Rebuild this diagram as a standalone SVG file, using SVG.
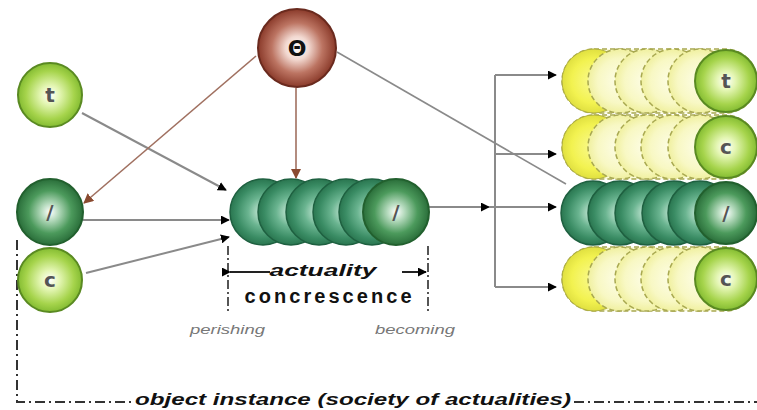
<svg xmlns="http://www.w3.org/2000/svg" width="757" height="410" viewBox="0 0 757 410">
<style>
.conn{stroke:#8a8a8a;stroke-width:2;fill:none}
.brown{stroke:#a07060;stroke-width:1.6;fill:none}
.dash{stroke:#333;stroke-width:2;fill:none;stroke-dasharray:10 4 2 4}
.vdash{stroke:#555;stroke-width:2;fill:none;stroke-dasharray:9 3 2 3}
.lg{fill:url(#gLight);stroke:#5a8a22;stroke-width:2}
.dg{fill:url(#gDark);stroke:#22602e;stroke-width:2}
.teal{fill:url(#gTeal);stroke:#1e6040;stroke-width:1.5}
.yel{fill:url(#gYel);stroke:#a8a850;stroke-width:1.5;stroke-dasharray:5 3}
.yel0{fill:url(#gYel0);stroke:#b0b040;stroke-width:1}
.glyph{font-family:"DejaVu Sans","Liberation Sans",sans-serif;font-size:20px;font-weight:bold;fill:#555;text-anchor:middle}
.lab{font-family:"Liberation Sans",Arial,sans-serif;fill:#111}
.small{font-family:"Liberation Sans",Arial,sans-serif;font-style:italic;font-size:13px;fill:#777}
</style>
<defs>
<radialGradient id="gLight" cx="0.5" cy="0.5" r="0.5">
<stop offset="0" stop-color="#ffffff"/><stop offset="0.3" stop-color="#e4f6b4"/><stop offset="0.75" stop-color="#a6d44c"/><stop offset="1" stop-color="#84bc32"/>
</radialGradient>
<radialGradient id="gDark" cx="0.5" cy="0.5" r="0.5">
<stop offset="0" stop-color="#ffffff"/><stop offset="0.25" stop-color="#b8dcc0"/><stop offset="0.65" stop-color="#4c9a5c"/><stop offset="1" stop-color="#2a6e3a"/>
</radialGradient>
<radialGradient id="gTheta" cx="0.5" cy="0.5" r="0.5">
<stop offset="0" stop-color="#ffffff"/><stop offset="0.3" stop-color="#f2d8d0"/><stop offset="0.65" stop-color="#bc7462"/><stop offset="1" stop-color="#8a3a2a"/>
</radialGradient>
<radialGradient id="gTeal" cx="0.5" cy="0.5" r="0.5">
<stop offset="0" stop-color="#d8f2e4"/><stop offset="0.45" stop-color="#6ab490"/><stop offset="0.8" stop-color="#3a8c64"/><stop offset="1" stop-color="#2a7650"/>
</radialGradient>
<radialGradient id="gYel" cx="0.5" cy="0.5" r="0.5">
<stop offset="0" stop-color="#fdfde8"/><stop offset="0.7" stop-color="#f8f8c4"/><stop offset="1" stop-color="#f0f0a0"/>
</radialGradient>
<radialGradient id="gYel0" cx="0.5" cy="0.5" r="0.5">
<stop offset="0" stop-color="#fafa90"/><stop offset="0.7" stop-color="#f2f250"/><stop offset="1" stop-color="#e0e040"/>
</radialGradient>
<marker id="ab" viewBox="0 0 10 10" refX="9" refY="5" markerWidth="9" markerHeight="9" markerUnits="userSpaceOnUse" orient="auto">
<path d="M0,0 L10,5 L0,10 z" fill="#000"/>
</marker>
<marker id="abr" viewBox="0 0 10 10" refX="9" refY="5" markerWidth="10" markerHeight="10" markerUnits="userSpaceOnUse" orient="auto">
<path d="M0,0 L10,5 L0,10 z" fill="#8a4a30"/>
</marker>
</defs>
<rect width="757" height="410" fill="#ffffff"/>

<g id="frame">
<path class="dash" d="M17,240 L17,402 L133,402"/>
<path class="dash" d="M574,402 L757,402"/>
<path class="vdash" d="M228,246 L228,314"/>
<path class="vdash" d="M428,246 L428,314"/>
</g>

<g id="connectors">
<line class="conn" x1="82" y1="113" x2="226" y2="190" marker-end="url(#ab)"/>
<line class="conn" x1="83" y1="220" x2="229" y2="220" marker-end="url(#ab)"/>
<line class="conn" x1="86" y1="273" x2="229" y2="237" marker-end="url(#ab)"/>
<line class="brown" x1="256" y1="56" x2="84" y2="203" marker-end="url(#abr)"/>
<line class="brown" x1="296" y1="88" x2="296" y2="178" marker-end="url(#abr)"/>
<line class="conn" x1="337" y1="52" x2="566" y2="184" style="stroke-width:1.6"/>
<line class="conn" x1="429" y1="207" x2="489" y2="207" marker-end="url(#ab)"/>
<line class="conn" x1="489" y1="207" x2="495" y2="207"/>
<path class="conn" d="M495,75 L495,287"/>
<line class="conn" x1="495" y1="75" x2="556" y2="75" marker-end="url(#ab)"/>
<line class="conn" x1="495" y1="154" x2="556" y2="154" marker-end="url(#ab)"/>
<line class="conn" x1="495" y1="207" x2="556" y2="207" marker-end="url(#ab)"/>
<line class="conn" x1="495" y1="287" x2="556" y2="287" marker-end="url(#ab)"/>
<line x1="230" y1="272" x2="270" y2="272" stroke="#222" stroke-width="2" marker-start="url(#ab)"/>
<line x1="402" y1="272" x2="426" y2="272" stroke="#222" stroke-width="2" marker-end="url(#ab)"/>
</g>

<g id="theta">
<circle cx="297" cy="48" r="39" fill="url(#gTheta)" stroke="#6a2a1e" stroke-width="2"/>
<text x="297" y="56" class="glyph" style="fill:#111;font-size:22px">Θ</text>
</g>

<g id="t-left">
<circle cx="50" cy="95" r="32" class="lg"/>
<text x="50" y="102" class="glyph">t</text>
</g>

<g id="slash-left">
<circle cx="50" cy="212" r="33" class="dg"/>
<text x="50" y="219" class="glyph">/</text>
</g>

<g id="c-left">
<circle cx="50" cy="280" r="32" class="lg"/>
<text x="50" y="287" class="glyph">c</text>
</g>

<g id="actuality-chain">
<circle cx="263" cy="212" r="33" class="teal"/>
<circle cx="291" cy="212" r="33" class="teal"/>
<circle cx="319" cy="212" r="33" class="teal"/>
<circle cx="346" cy="212" r="33" class="teal"/>
<circle cx="372" cy="212" r="33" class="teal"/>
<circle cx="396" cy="212" r="33" class="dg"/>
<text x="396" y="219" class="glyph">/</text>
</g>

<g id="labels">
<text x="323" y="276" class="lab" style="font-weight:bold;font-style:italic;font-size:17px" text-anchor="middle" textLength="107" lengthAdjust="spacingAndGlyphs">actuality</text>
<text x="328" y="303" class="lab" style="font-weight:bold;font-size:20px" text-anchor="middle" textLength="167" lengthAdjust="spacing">concrescence</text>
<text x="190" y="334" class="small" textLength="75" lengthAdjust="spacingAndGlyphs">perishing</text>
<text x="375" y="334" class="small" textLength="80" lengthAdjust="spacingAndGlyphs">becoming</text>
<text x="135" y="405" class="lab" style="font-weight:bold;font-style:italic;font-size:16px" textLength="436" lengthAdjust="spacingAndGlyphs">object instance (society of actualities)</text>
</g>

<g id="row-t">
<rect x="562" y="49" width="195" height="64" rx="32" fill="#fbfbd8" stroke="#a8a850" stroke-width="1.5" stroke-dasharray="5 3"/>
<circle cx="594" cy="81" r="32" class="yel0"/>
<circle cx="620" cy="81" r="32" class="yel"/>
<circle cx="647" cy="81" r="32" class="yel"/>
<circle cx="673" cy="81" r="32" class="yel"/>
<circle cx="700" cy="81" r="32" class="yel"/>
<circle cx="726" cy="81" r="31" class="lg"/>
<text x="726" y="88" class="glyph">t</text>
</g>

<g id="row-c1">
<rect x="562" y="115" width="195" height="64" rx="32" fill="#fbfbd8" stroke="#a8a850" stroke-width="1.5" stroke-dasharray="5 3"/>
<circle cx="594" cy="147" r="32" class="yel0"/>
<circle cx="620" cy="147" r="32" class="yel"/>
<circle cx="647" cy="147" r="32" class="yel"/>
<circle cx="673" cy="147" r="32" class="yel"/>
<circle cx="700" cy="147" r="32" class="yel"/>
<circle cx="726" cy="147" r="31" class="lg"/>
<text x="726" y="154" class="glyph">c</text>
</g>

<g id="row-slash">
<circle cx="593" cy="213" r="32" class="teal"/>
<circle cx="620" cy="213" r="32" class="teal"/>
<circle cx="647" cy="213" r="32" class="teal"/>
<circle cx="674" cy="213" r="32" class="teal"/>
<circle cx="700" cy="213" r="32" class="teal"/>
<circle cx="726" cy="213" r="31" class="dg"/>
<text x="726" y="220" class="glyph">/</text>
</g>

<g id="row-c2">
<rect x="562" y="247" width="195" height="64" rx="32" fill="#fbfbd8" stroke="#a8a850" stroke-width="1.5" stroke-dasharray="5 3"/>
<circle cx="594" cy="279" r="32" class="yel0"/>
<circle cx="620" cy="279" r="32" class="yel"/>
<circle cx="647" cy="279" r="32" class="yel"/>
<circle cx="673" cy="279" r="32" class="yel"/>
<circle cx="700" cy="279" r="32" class="yel"/>
<circle cx="726" cy="279" r="31" class="lg"/>
<text x="726" y="286" class="glyph">c</text>
</g>
</svg>
